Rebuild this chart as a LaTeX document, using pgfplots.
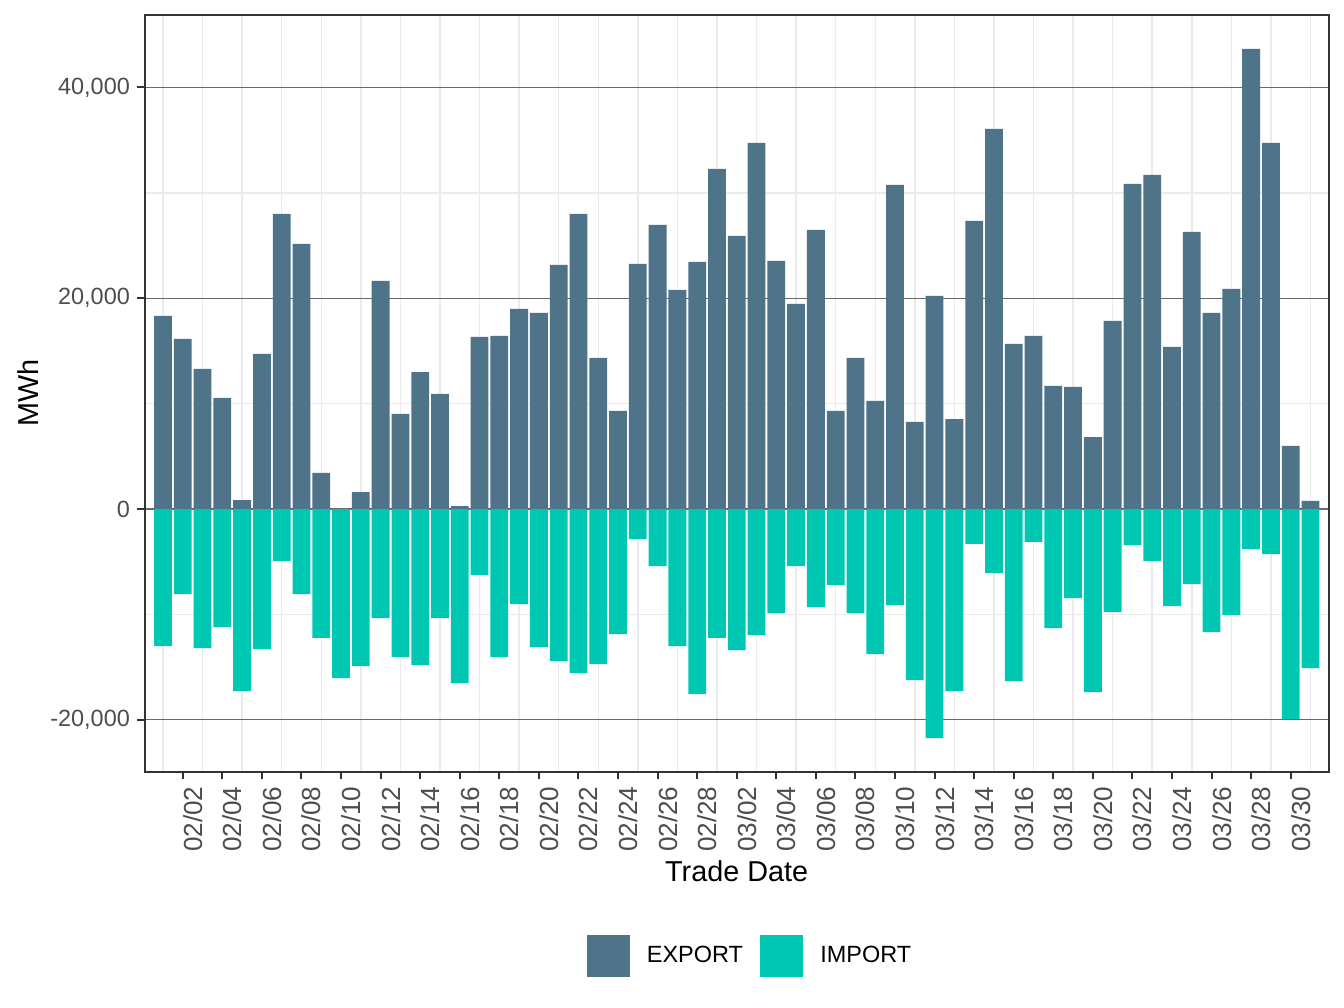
\documentclass[border=0pt]{standalone}
\usepackage{pgfplots}
\usepackage{pgfplotstable}
\pgfplotsset{compat=1.18}
\usepackage{fontspec}
\setmainfont{Liberation Sans}
\definecolor{exportc}{RGB}{79,115,137}
\definecolor{importc}{RGB}{0,199,178}
\definecolor{gridmaj}{RGB}{105,105,105}
\definecolor{gridmin}{RGB}{235,235,235}
\definecolor{ticklab}{RGB}{77,77,77}
\definecolor{frame}{RGB}{51,51,51}
\pgfplotsset{sqlegend/.style={legend image code/.code={\draw[##1,draw=none] (0pt,-8pt) rectangle (16pt,8pt);}}}
\pgfplotstableread{
idx export import
0 18320 -13000
1 16140 -8070
2 13290 -13190
3 10540 -11200
4 850 -17280
5 14710 -13290
6 28000 -4940
7 25150 -8070
8 3420 -12240
9 0 -16040
10 1610 -14900
11 21640 -10350
12 9020 -14050
13 13000 -14810
14 10920 -10350
15 285 -16520
16 16330 -6260
17 16420 -14050
18 18980 -9020
19 18600 -13100
20 23160 -14430
21 28000 -15570
22 14330 -14710
23 9300 -11870
24 23260 -2850
25 26960 -5410
26 20790 -13000
27 23450 -17560
28 32270 -12240
29 25910 -13380
30 34740 -11960
31 23540 -9870
32 19460 -5410
33 26480 -9300
34 9300 -7210
35 14330 -9870
36 10250 -13760
37 30750 -9110
38 8260 -16230
39 20220 -21740
40 8540 -17280
41 27340 -3320
42 36070 -6070
43 15660 -16330
44 16420 -3130
45 11680 -11300
46 11580 -8450
47 6830 -17370
48 17840 -9780
49 30850 -3420
50 31700 -4940
51 15380 -9210
52 26290 -7120
53 18600 -11680
54 20880 -10060
55 43660 -3800
56 34740 -4270
57 5980 -19930
58 760 -15090
}\datatable
\begin{document}
\begin{tikzpicture}
\useasboundingbox (-54.26pt,-88.6pt) rectangle (449.74pt,289.4pt);
\begin{axis}[
  at={(0pt,0pt)}, anchor=south west,
  width=444pt, height=283.8pt, scale only axis,
  xmin=-0.925, xmax=58.92,
  ymin=-24930, ymax=46880,
  axis line style={draw=frame, line width=0.75pt},
  xtick={1,3,...,57},
  xticklabels={02/02,02/04,02/06,02/08,02/10,02/12,02/14,02/16,02/18,02/20,02/22,02/24,02/26,02/28,03/02,03/04,03/06,03/08,03/10,03/12,03/14,03/16,03/18,03/20,03/22,03/24,03/26,03/28,03/30},
  minor xtick={0,2,...,58},
  ytick={-20000,0,20000,40000},
  minor ytick={-10000,10000,30000},
  scaled y ticks=false,
  /pgf/number format/1000 sep={,},
  /pgf/number format/assume math mode=true,
  xtick pos=bottom, ytick pos=left,
  tick align=outside,
  major tick length=2.75pt, minor tick length=0pt,
  major tick style={draw=frame, line width=0.75pt},
  xmajorgrids=false, xminorgrids=true,
  ymajorgrids=true, yminorgrids=true,
  minor grid style={draw=gridmin, line width=0.55pt},
  y grid style={draw=gridmaj, line width=0.45pt},
  minor y grid style={draw=gridmin, line width=0.55pt},
  minor x grid style={draw=gridmin, line width=0.55pt},
  yticklabel style={font=\fontsize{8.8}{10}\selectfont, text=ticklab, anchor=east, inner sep=0pt, xshift=-2.6pt},
  xticklabel style={font=\fontsize{9.8}{11}\selectfont, text=ticklab, yshift=-2.6pt, rotate=90, anchor=north east, inner sep=0pt},
  xlabel={Trade Date}, ylabel={MWh},
  every axis x label/.style={at={(axis description cs:0.5,-0.1318)}, anchor=center, font=\fontsize{10.8}{13}\selectfont, text=black},
  every axis y label/.style={at={(axis description cs:-0.0986,0.5)}, rotate=90, anchor=center, font=\fontsize{10.8}{13}\selectfont, text=black},
  legend columns=2,
  legend style={draw=none, fill=none, at={(axis description cs:0.5104,-0.2435)}, anchor=center,
    font=\fontsize{8.8}{10}\selectfont, inner sep=0pt, column sep=6.5pt,
    nodes={inner sep=0pt, anchor=west}},
]
\addplot[ybar, bar width=0.9, bar shift=0pt, fill=exportc, draw=none, sqlegend] table[x=idx, y=export] {\datatable};
\addlegendentry{EXPORT}
\addplot[ybar, bar width=0.9, bar shift=0pt, fill=importc, draw=none, sqlegend] table[x=idx, y=import] {\datatable};
\addlegendentry{IMPORT}
\end{axis}
\end{tikzpicture}
\end{document}
